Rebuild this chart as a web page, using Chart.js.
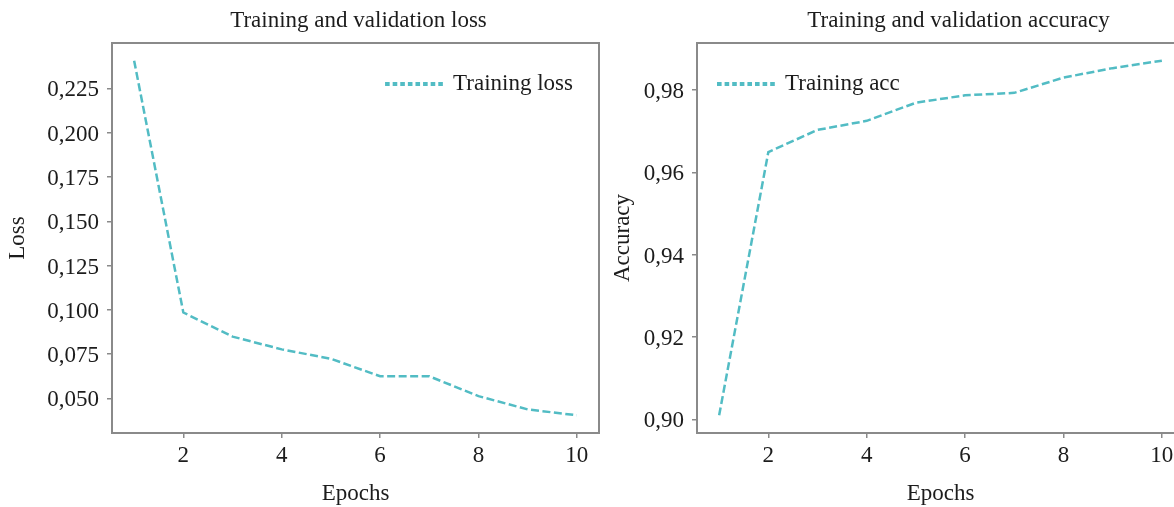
<!DOCTYPE html>
<html>
<head>
<meta charset="utf-8">
<script src="https://cdn.jsdelivr.net/npm/chart.js@4/dist/chart.umd.min.js"></script>
<style>
  html, body { margin: 0; padding: 0; background: #fff; overflow: hidden; }
  body { width: 1174px; height: 507px; position: relative; }
  canvas { position: absolute; top: 0; }
  #lossChart { left: 0; }
  #accChart { left: 585px; }
</style>
</head>
<body>
<canvas id="lossChart" width="620" height="507"></canvas>
<canvas id="accChart" width="620" height="507"></canvas>
<script>
// values
const epochs = [1, 2, 3, 4, 5, 6, 7, 8, 9, 10];
const trainLoss = [0.2406, 0.0985, 0.0849, 0.0777, 0.0724, 0.0625, 0.0625, 0.0513, 0.0438, 0.0405];
const trainAcc = [0.9010, 0.9649, 0.9703, 0.9725, 0.9769, 0.9787, 0.9793, 0.9830, 0.9853, 0.9871];

const epochTicks = [2, 4, 6, 8, 10];
const lossTicks = [0.050, 0.075, 0.100, 0.125, 0.150, 0.175, 0.200, 0.225];
const accTicks = [0.90, 0.92, 0.94, 0.96, 0.98];

const LINE_COLOR = '#52bcc4';
const AXIS_COLOR = '#8a8a8a';
const TEXT_COLOR = '#1c1c1c';
const FONT = '"Liberation Serif", "Times New Roman", serif';
const FONT_SIZE = 23;

Chart.defaults.font.family = FONT;
Chart.defaults.font.size = FONT_SIZE;
Chart.defaults.color = TEXT_COLOR;

// matplotlib-style 5% margin around the data
function paddedRange(values, frac = 0.05) {
    const lo = Math.min(...values);
    const hi = Math.max(...values);
    const pad = (hi - lo) * frac;
    return { min: lo - pad, max: hi + pad };
}

// box around the plot area (spines)
const frame = {
    id: 'frame',
    afterDatasetsDraw(chart) {
        const { ctx, chartArea: a } = chart;
        ctx.save();
        ctx.strokeStyle = AXIS_COLOR;
        ctx.lineWidth = 2;
        ctx.strokeRect(a.left, a.top, a.right - a.left, a.bottom - a.top);
        ctx.restore();
    }
};

// title centred over the plot area
const panelTitle = {
    id: 'panelTitle',
    afterDraw(chart, args, opts) {
        const { ctx, chartArea: a } = chart;
        ctx.save();
        ctx.font = `${FONT_SIZE}px ${FONT}`;
        ctx.fillStyle = TEXT_COLOR;
        ctx.textAlign = 'center';
        ctx.textBaseline = 'alphabetic';
        ctx.fillText(opts.text, (a.left + a.right) / 2 + (opts.dx || 0), 27);
        ctx.restore();
    }
};

// dashed-line legend inside the plot area
const lineLegend = {
    id: 'lineLegend',
    afterDraw(chart, args, opts) {
        const { ctx, chartArea: a } = chart;
        const label = chart.data.datasets[0].label;
        ctx.save();
        ctx.font = `${FONT_SIZE}px ${FONT}`;
        const textW = ctx.measureText(label).width;
        const lineW = 60, gap = 8;
        let x0;
        if (opts.side === 'right') {
            x0 = a.right - opts.inset - textW - gap - lineW;
        } else {
            x0 = a.left + opts.inset;
        }
        const y = a.top + opts.top;
        ctx.strokeStyle = LINE_COLOR;
        ctx.lineWidth = 4;
        ctx.setLineDash([4.6, 3]);
        ctx.beginPath();
        ctx.moveTo(x0, y);
        ctx.lineTo(x0 + lineW, y);
        ctx.stroke();
        ctx.setLineDash([]);
        ctx.fillStyle = TEXT_COLOR;
        ctx.textAlign = 'left';
        ctx.textBaseline = 'middle';
        ctx.fillText(label, x0 + lineW + gap, y);
        ctx.restore();
    }
};

function makeChart(canvasId, opts) {
    const canvas = document.getElementById(canvasId);
    if (!canvas) {
        console.error(`Canvas with ID "${canvasId}" not found.`);
        return null;
    }
    const yRange = paddedRange(opts.values);
    const xRange = paddedRange(epochs);

    return new Chart(canvas, {
        type: 'line',
        data: {
            datasets: [{
                label: opts.label,
                data: epochs.map((e, i) => ({ x: e, y: opts.values[i] })),
                borderColor: LINE_COLOR,
                borderWidth: 2.5,
                borderDash: [8, 3.5],
                pointRadius: 0,
                tension: 0,
                fill: false
            }]
        },
        options: {
            responsive: false,
            animation: false,
            layout: { padding: { left: 0, right: 21, top: 43, bottom: 0 } },
            plugins: {
                legend: { display: false },
                tooltip: { enabled: false },
                panelTitle: { text: opts.title, dx: opts.titleDx },
                lineLegend: opts.legend
            },
            scales: {
                x: {
                    type: 'linear',
                    min: xRange.min,
                    max: xRange.max,
                    afterBuildTicks: s => { s.ticks = epochTicks.map(v => ({ value: v })); },
                    afterFit: s => { s.height = 74; },
                    ticks: { padding: 4, color: TEXT_COLOR, maxRotation: 0 },
                    grid: { drawOnChartArea: false, drawTicks: true, tickLength: 5, color: AXIS_COLOR, lineWidth: 1.5 },
                    border: { display: false },
                    title: { display: true, text: 'Epochs', padding: { top: 0, bottom: -1 } }
                },
                y: {
                    type: 'linear',
                    min: yRange.min,
                    max: yRange.max,
                    afterBuildTicks: s => { s.ticks = opts.ticks.map(v => ({ value: v })); },
                    afterFit: s => { s.width = 112; },
                    ticks: {
                        padding: 8,
                        labelOffset: 2,
                        color: TEXT_COLOR,
                        callback: v => v.toFixed(opts.digits).replace('.', ',')
                    },
                    grid: { drawOnChartArea: false, drawTicks: true, tickLength: 5, color: AXIS_COLOR, lineWidth: 1.5 },
                    border: { display: false },
                    title: { display: true, text: opts.yTitle, padding: { top: opts.yTitlePad, bottom: 0 } }
                }
            }
        },
        plugins: [frame, panelTitle, lineLegend]
    });
}

makeChart('lossChart', {
    label: 'Training loss',
    title: 'Training and validation loss',
    titleDx: 3,
    values: trainLoss,
    ticks: lossTicks,
    digits: 3,
    yTitle: 'Loss',
    yTitlePad: 4,
    legend: { side: 'right', inset: 26, top: 41 }
});

makeChart('accChart', {
    label: 'Training acc',
    title: 'Training and validation accuracy',
    titleDx: 18,
    values: trainAcc,
    ticks: accTicks,
    digits: 2,
    yTitle: 'Accuracy',
    yTitlePad: 24,
    legend: { side: 'left', inset: 20, top: 41 }
});
</script>
</body>
</html>
